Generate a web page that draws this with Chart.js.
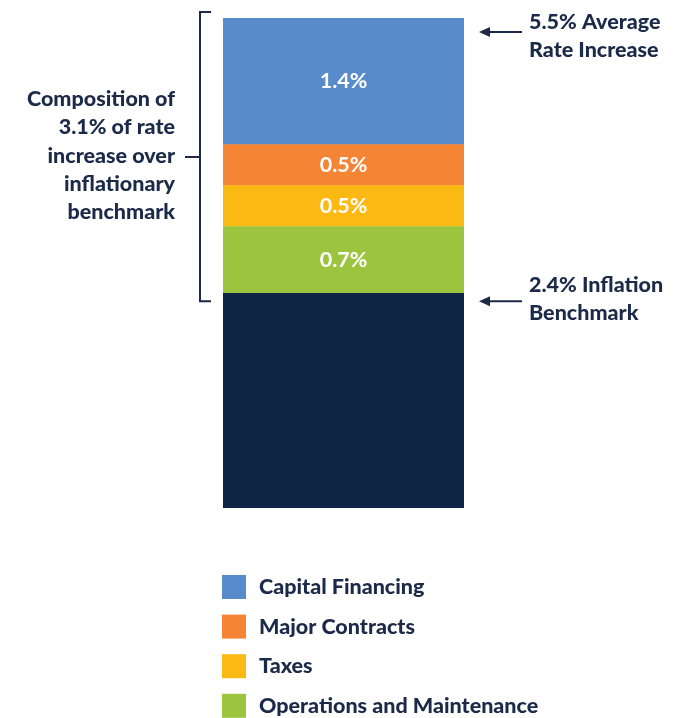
<!DOCTYPE html>
<html>
<head>
<meta charset="utf-8">
<script src="https://cdn.jsdelivr.net/npm/chart.js@4"></script>
<style>
  html, body { margin: 0; padding: 0; background: #fff; }
  #wrap { width: 700px; height: 718px; position: relative; }
</style>
</head>
<body>
<div id="wrap"><canvas id="rateChart" width="700" height="718"></canvas></div>
<script>
  // Data
  var categories = ["Rate"];
  var seriesNames = ["Inflation Benchmark", "Operations and Maintenance", "Taxes", "Major Contracts", "Capital Financing"];
  var seriesValues = [2.41, 0.75, 0.46, 0.46, 1.42];
  var seriesLabels = ["", "0.7%", "0.5%", "0.5%", "1.4%"];
  var seriesColors = ["#0f2545", "#9dc43f", "#fdb913", "#f58535", "#578bcb"];
  var legendOrder = ["Capital Financing", "Major Contracts", "Taxes", "Operations and Maintenance"];
  var leftNote = ["Composition of", "3.1% of rate", "increase over", "inflationary", "benchmark"];
  var topNote = ["5.5% Average", "Rate Increase"];
  var bottomNote = ["2.4% Inflation", "Benchmark"];
  var totalRate = 5.5;
  var inflationRate = 2.41;

  var textColor = "#1b2a48";
  var font = "Lato, 'Open Sans', sans-serif";
  var textFont = "900 21.5px " + font;

  var datasets = seriesNames.map(function (name, i) {
    return {
      label: name,
      data: [seriesValues[i]],
      backgroundColor: seriesColors[i],
      borderWidth: 0
    };
  });

  // annotations, labels and legend
  var extras = {
    id: 'extras',
    afterDatasetsDraw: function (chart) {
      var ctx = chart.ctx;
      var y = chart.scales.y;
      var area = chart.chartArea;
      ctx.save();

      // value labels inside segments
      ctx.font = "bold 21.5px " + font;
      ctx.fillStyle = "#ffffff";
      ctx.textAlign = "center";
      ctx.textBaseline = "middle";
      chart.data.datasets.forEach(function (ds, i) {
        if (!seriesLabels[i]) return;
        var bar = chart.getDatasetMeta(i).data[0];
        ctx.fillText(seriesLabels[i], bar.x, (bar.y + bar.base) / 2);
      });

      // bracket
      var yTop = y.getPixelForValue(totalRate) - 6;
      var yBot = y.getPixelForValue(inflationRate) + 8;
      var bx = area.left - 23;
      ctx.strokeStyle = textColor;
      ctx.lineWidth = 2;
      ctx.beginPath();
      ctx.moveTo(bx + 11, yTop);
      ctx.lineTo(bx, yTop);
      ctx.lineTo(bx, yBot);
      ctx.lineTo(bx + 11, yBot);
      ctx.stroke();
      var ymid = 157;
      ctx.beginPath();
      ctx.moveTo(bx, ymid);
      ctx.lineTo(bx - 15, ymid);
      ctx.stroke();

      // left note
      ctx.font = textFont;
      ctx.fillStyle = textColor;
      ctx.textAlign = "right";
      leftNote.forEach(function (t, i) {
        ctx.fillText(t, 175, 99 + i * 28.3);
      });

      // arrows on the right
      function arrow(yy) {
        var x1 = area.right + 58, x0 = area.right + 15;
        ctx.beginPath();
        ctx.moveTo(x1, yy);
        ctx.lineTo(x0 + 6, yy);
        ctx.stroke();
        ctx.beginPath();
        ctx.moveTo(x0, yy);
        ctx.lineTo(x0 + 11, yy - 5);
        ctx.lineTo(x0 + 11, yy + 5);
        ctx.closePath();
        ctx.fill();
      }
      var aTop = y.getPixelForValue(totalRate) + 14;
      var aBot = y.getPixelForValue(inflationRate) + 8;
      arrow(aTop);
      arrow(aBot);
      ctx.textAlign = "left";
      topNote.forEach(function (t, i) {
        ctx.fillText(t, area.right + 65, aTop - 10 + i * 28);
      });
      bottomNote.forEach(function (t, i) {
        ctx.fillText(t, area.right + 65, aBot - 16 + i * 28);
      });

      // legend
      legendOrder.forEach(function (name, i) {
        var k = seriesNames.indexOf(name);
        var cy = 587 + i * 39.6;
        ctx.fillStyle = seriesColors[k];
        ctx.fillRect(222, cy - 12, 24, 24);
        ctx.fillStyle = textColor;
        ctx.fillText(name, 259, cy);
      });
      ctx.restore();
    }
  };

  var ctx = document.getElementById('rateChart').getContext('2d');
  var rateChart = new Chart(ctx, {
    type: 'bar',
    data: { labels: categories, datasets: datasets },
    options: {
      responsive: false,
      animation: false,
      layout: { padding: { left: 223, right: 236, top: 18, bottom: 210 } },
      datasets: { bar: { barPercentage: 1, categoryPercentage: 1 } },
      scales: {
        x: { stacked: true, display: false },
        y: { stacked: true, display: false, min: 0, max: totalRate }
      },
      plugins: {
        legend: { display: false },
        tooltip: { enabled: false }
      }
    },
    plugins: [extras]
  });
</script>
</body>
</html>
